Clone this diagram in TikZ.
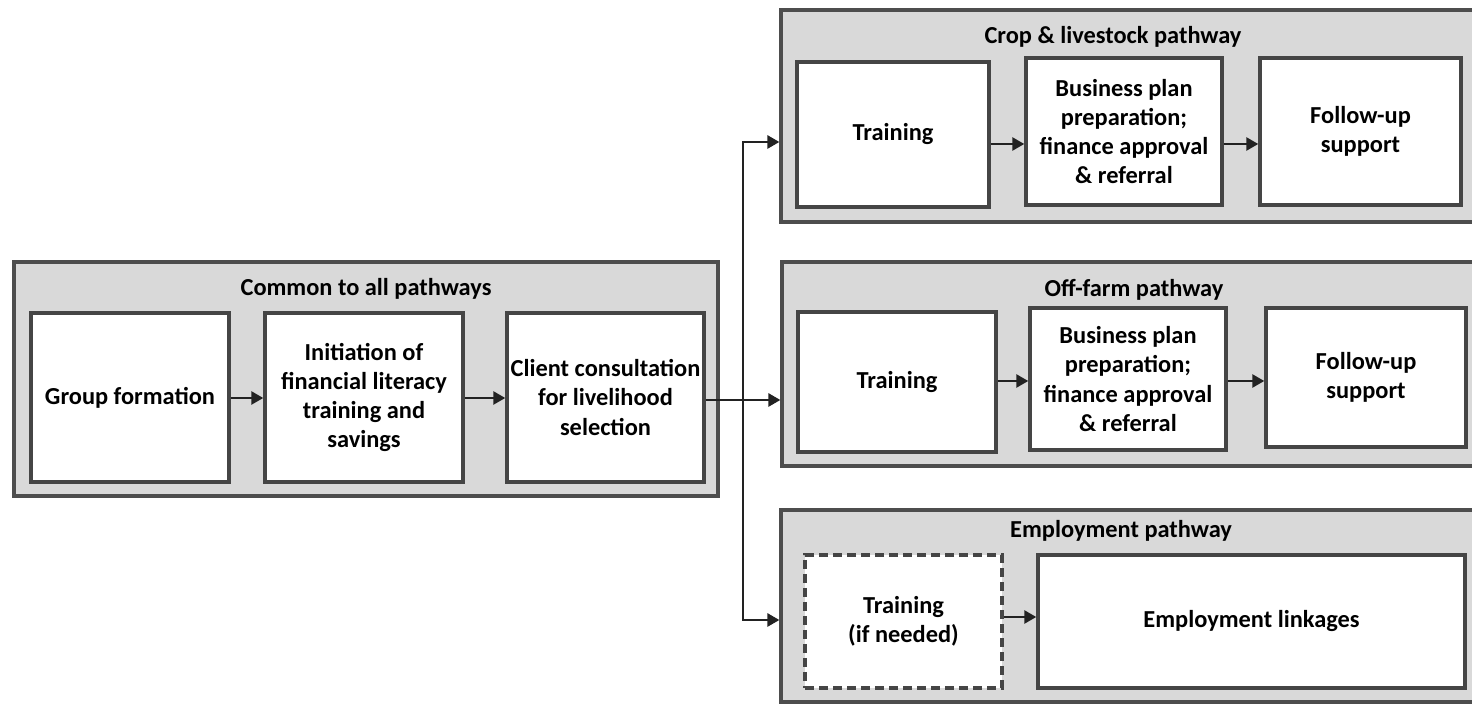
\documentclass[tikz,border=0pt]{standalone}
\usepackage{fontspec}
\setmainfont{Carlito}
\usetikzlibrary{arrows.meta}
\definecolor{contfill}{HTML}{D9D9D9}
\definecolor{contline}{HTML}{4D4D4D}
\definecolor{boxline}{HTML}{454545}
\definecolor{arrline}{HTML}{222222}
\begin{document}
\begin{tikzpicture}[x=0.5pt,y=-0.5pt,
  txt/.style={font=\bfseries\fontsize{12.2}{14.6}\selectfont, align=center},
  cont/.style={draw=contline, fill=contfill, line width=1.6pt},
  box/.style={draw=boxline, fill=white, line width=1.7pt, inner sep=0pt, txt},
  dbox/.style={box, dash pattern=on 4.5pt off 2.5pt},
  ttl/.style={txt, inner sep=0pt},
  arr/.style={draw=arrline, line width=1.3pt, -{Triangle[length=6pt,width=6.5pt]}}]
\useasboundingbox (0,0) rectangle (1472,704);

% containers
\node[cont, minimum width=352pt, minimum height=117pt] (common) at (366,379) {};
\node[cont, minimum width=359.5pt, minimum height=106pt] (crop) at (1140.5,116) {};
\node[cont, minimum width=359pt, minimum height=102pt] (off) at (1141,364) {};
\node[cont, minimum width=359.5pt, minimum height=96pt] (emp) at (1140.5,606) {};

% titles
\node[ttl] (tcommon) at (366,289) {Common to all pathways};
\node[ttl] (tcrop) at (1113,37) {Crop \& livestock pathway};
\node[ttl] (toff) at (1134,290) {Off-farm pathway};
\node[ttl] (temp) at (1121,531) {Employment pathway};

% common boxes
\node[box, minimum width=99pt, minimum height=84.5pt] (g) at (130,397.5) {Group formation};
\node[box, minimum width=99pt, minimum height=84.5pt] (i) at (364,397.5) {Initiation of\\financial literacy\\training and\\savings};
\node[box, minimum width=98.5pt, minimum height=84.5pt] (c) at (605.5,397.5) {Client consultation\\for livelihood\\selection};

% crop boxes
\node[box, minimum width=96pt, minimum height=72.5pt] (t1) at (893,134.5) {Training};
\node[box, minimum width=98pt, minimum height=73.5pt] (b1) at (1124,131.5) {Business plan\\preparation;\\finance approval\\\& referral};
\node[box, minimum width=100.5pt, minimum height=73.5pt] (f1) at (1360.5,131.5) {Follow-up\\support};

% off-farm boxes
\node[box, minimum width=99pt, minimum height=70pt] (t2) at (897,382) {Training};
\node[box, minimum width=98pt, minimum height=71pt] (b2) at (1128,379) {Business plan\\preparation;\\finance approval\\\& referral};
\node[box, minimum width=100pt, minimum height=69.5pt] (f2) at (1366,377.5) {Follow-up\\support};

% employment boxes
\node[dbox, minimum width=98.5pt, minimum height=66.5pt] (t3) at (903.5,621.5) {Training\\(if needed)};
\node[box, minimum width=213.5pt, minimum height=66.5pt] (l3) at (1251.5,621.5) {Employment linkages};

% helper coordinates
\coordinate (ycommon) at (0,398);
\coordinate (ycrop) at (0,144);
\coordinate (yoff) at (0,381);
\coordinate (yemp) at (0,617);
\coordinate (split) at (743,400);
\coordinate (ytop) at (0,142);
\coordinate (ybot) at (0,620);

% arrows common
\draw[arr] (g.east |- ycommon) -- (i.west |- ycommon);
\draw[arr] (i.east |- ycommon) -- (c.west |- ycommon);
% branch
\draw[arr] (c.east |- split) -- (off.west |- split);
\draw[arr] (split) |- (crop.west |- ytop);
\draw[arr] (split) |- (emp.west |- ybot);
% crop arrows
\draw[arr] (t1.east |- ycrop) -- (b1.west |- ycrop);
\draw[arr] (b1.east |- ycrop) -- (f1.west |- ycrop);
% off-farm arrows
\draw[arr] (t2.east |- yoff) -- (b2.west |- yoff);
\draw[arr] (b2.east |- yoff) -- (f2.west |- yoff);
% employment arrow
\draw[arr] (t3.east |- yemp) -- (l3.west |- yemp);
\end{tikzpicture}
\end{document}
